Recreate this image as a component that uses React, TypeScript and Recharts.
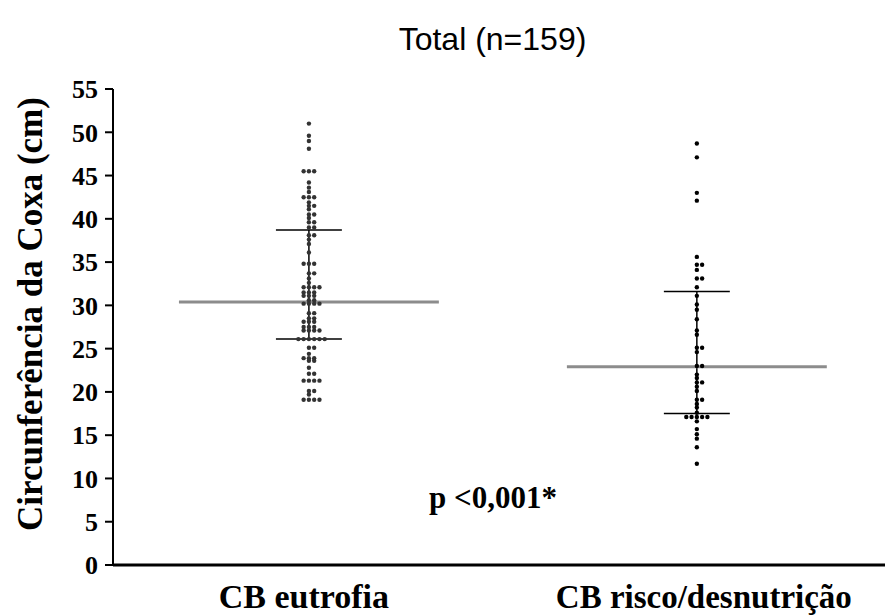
import { ScatterChart, Scatter, XAxis, YAxis, ReferenceLine } from "recharts";

const categories = ["CB eutrofia", "CB risco/desnutrição"];

// circunferência da coxa (cm)
const eutrofia = [
  51.0, 49.6, 49.0, 48.1, 45.5, 45.5, 45.5, 44.2, 43.6, 43.1, 42.5, 42.5, 42.5, 41.9,
  41.5, 41.5, 41.1, 40.5, 40.5, 40.1, 39.6, 39.6, 39.0, 39.0, 38.1, 38.1, 37.6, 37.1,
  36.1, 34.8, 34.8, 34.8, 33.7, 33.7, 33.1, 32.6, 32.1, 32.1, 32.1, 32.1, 31.5, 31.5,
  31.5, 31.1, 31.1, 31.1, 30.6, 30.6, 30.2, 30.2, 30.2, 30.2, 29.1, 29.1, 28.5, 28.5,
  28.1, 28.1, 28.1, 27.5, 27.5, 27.5, 27.1, 27.1, 27.1, 27.1, 26.1, 26.1, 26.1, 26.1,
  26.1, 26.1, 25.1, 25.1, 24.4, 23.9, 23.9, 23.9, 23.6, 23.6, 22.8, 22.1, 22.1, 21.3,
  21.3, 21.3, 21.3, 20.1, 20.1, 19.7, 19.1, 19.1, 19.1, 19.1,
];
const risco = [
  48.7, 47.1, 43.0, 42.1, 35.6, 34.7, 34.7, 34.1, 33.1, 33.1, 32.1, 31.1, 30.1, 29.5,
  28.4, 27.1, 26.6, 25.1, 25.1, 24.6, 23.0, 23.0, 22.0, 21.6, 21.1, 21.1, 20.6, 20.1,
  19.1, 19.1, 18.6, 18.2, 17.6, 17.1, 17.1, 17.1, 17.1, 17.1, 16.6, 15.7, 15.1, 14.6,
  13.6, 11.7,
];

const medians = [30.4, 22.9];
const q1 = [26.1, 17.5];
const q3 = [38.7, 31.6];
const yTicks = [0, 5, 10, 15, 20, 25, 30, 35, 40, 45, 50, 55];

const STEP = 0.0136;
const MED_HALF = 0.335;
const BAR_HALF = 0.085;
const serif = "'Liberation Serif', 'Times New Roman', serif";

// spread equal values side by side, like a column scatter
function swarm(values: number[], center: number) {
  const order = [0, 1, -1, 2, -2, 3, -3, 4, -4];
  const seen: Record<string, number> = {};
  return values.map((v) => {
    const k = v.toFixed(1);
    const i = seen[k] ?? 0;
    seen[k] = i + 1;
    return { x: center + order[i] * STEP, y: v };
  });
}

const dotsA = swarm(eutrofia, 1);
const dotsB = swarm(risco, 2);

const Dot = (props: any) => <circle cx={props.cx} cy={props.cy} r={2.2} fill={props.fill} />;

const CategoryTick = (props: any) => {
  const idx = Math.round(props.payload.value) - 1;
  return (
    <text x={props.x + (idx === 1 ? 7 : -5)} y={props.y} dy={35} textAnchor="middle" fill="#000"
      fontFamily={serif} fontWeight="bold" fontSize={idx === 1 ? 33 : 34}>
      {categories[idx]}
    </text>
  );
};

const YTitle = (props: any) => {
  const vb = props.viewBox;
  const cx = 42;
  const cy = vb.y + vb.height / 2 - 13;
  return (
    <text x={cx} y={cy} transform={`rotate(-90, ${cx}, ${cy})`} textAnchor="middle" fill="#000"
      fontFamily={serif} fontWeight="bold" fontSize={35}>
      Circunferência da Coxa (cm)
    </text>
  );
};

export default function App() {
  return (
    <div style={{ position: "absolute", left: 0, top: 0, width: 885, height: 615, background: "#fff" }}>
      <div style={{ position: "absolute", top: 23, left: 0, width: 985, textAlign: "center", fontFamily: "'Liberation Sans', Arial, sans-serif", fontSize: 32, lineHeight: "32px", color: "#000" }}>
        Total (n=159)
      </div>
      <ScatterChart width={885} height={615} margin={{ top: 89, right: 0, bottom: 0, left: 0 }}>
        <XAxis type="number" dataKey="x" domain={[0.495, 2.485]} ticks={[1, 2]} allowDataOverflow
          height={50} axisLine={{ stroke: "#000", strokeWidth: 3 }} tickLine={false} tick={<CategoryTick />} />
        <YAxis type="number" dataKey="y" domain={[0, 55]} ticks={yTicks} width={113} interval={0}
          axisLine={{ stroke: "#000", strokeWidth: 2 }} tickLine={{ stroke: "#000", strokeWidth: 2 }} tickSize={8} tickMargin={7}
          tick={{ fill: "#000", fontSize: 26, fontFamily: serif, fontWeight: "bold" }}
          label={<YTitle />} />
        <Scatter data={dotsA} fill="#333" shape={<Dot />} isAnimationActive={false} />
        <Scatter data={dotsB} fill="#000" shape={<Dot />} isAnimationActive={false} />
        {medians.map((m, i) => (
          <ReferenceLine key={"v" + i} segment={[{ x: i + 1, y: q1[i] }, { x: i + 1, y: q3[i] }]} stroke="#000" strokeWidth={1.5} />
        ))}
        {medians.map((m, i) => (
          <ReferenceLine key={"q1" + i} segment={[{ x: i + 1 - BAR_HALF, y: q1[i] }, { x: i + 1 + BAR_HALF, y: q1[i] }]} stroke="#000" strokeWidth={1.5} />
        ))}
        {medians.map((m, i) => (
          <ReferenceLine key={"q3" + i} segment={[{ x: i + 1 - BAR_HALF, y: q3[i] }, { x: i + 1 + BAR_HALF, y: q3[i] }]} stroke="#000" strokeWidth={1.5} />
        ))}
        {medians.map((m, i) => (
          <ReferenceLine key={"m" + i} segment={[{ x: i + 1 - MED_HALF, y: m }, { x: i + 1 + MED_HALF, y: m }]} stroke="#8c8c8c" strokeWidth={3} />
        ))}
      </ScatterChart>
      <div style={{ position: "absolute", top: 482, left: 393, width: 200, textAlign: "center", fontFamily: serif, fontWeight: "bold", fontSize: 31, lineHeight: "31px", color: "#000" }}>
        p &lt;0,001*
      </div>
    </div>
  );
}
